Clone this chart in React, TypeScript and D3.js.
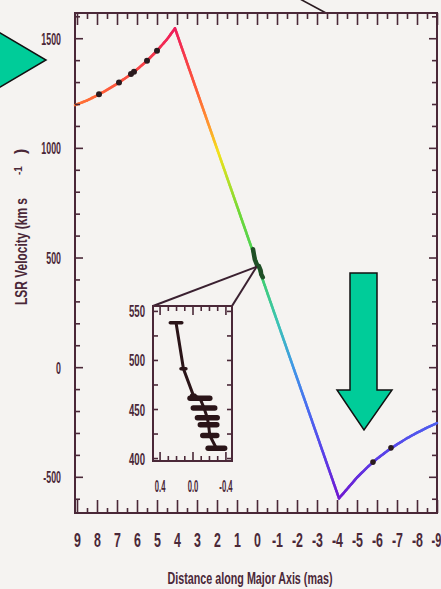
import * as d3 from 'd3';
import React from 'react';

const W = 441;
const H = 589;

// rotation curve: distance along major axis (mas) and LSR velocity (km/s)
const redSideDist = [9.1, 8.5, 8, 7.5, 7, 6.5, 6, 5.5, 5, 4.5, 4.1];
const redSideVel = [1195, 1216, 1239, 1264, 1292, 1323, 1358, 1397, 1443, 1495, 1545];
const blueSideDist = [-4.1, -4.5, -5, -5.5, -6, -6.5, -7, -7.5, -8, -8.5, -9];
const blueSideVel = [-598, -556, -503, -458, -418, -383, -352, -324, -299, -276, -255];

// high-velocity masers on the curve
const highDotDist = [7.9, 6.9, 6.3, 6.15, 5.5, 5.0];
const highDotVel = [1244, 1298, 1337, 1347, 1397, 1443];
const lowDotDist = [-5.8, -6.7];
const lowDotVel = [-433, -368];

// systemic masers (shown in the inset)
const sysDist = [0.2, 0.11, -0.01, -0.09, -0.14, -0.18, -0.195, -0.21, -0.29];
const sysVel = [538, 491, 464, 461, 451, 441, 434, 423, 410];
const sysErr = [0.07, 0.03, 0.02, 0.12, 0.13, 0.12, 0.1, 0.085, 0.1];

// axis ticks
const xMajorTicks = [9, 8, 7, 6, 5, 4, 3, 2, 1, 0, -1, -2, -3, -4, -5, -6, -7, -8, -9];
const xMinorTicks = [8.5, 7.5, 6.5, 5.5, 4.5, 3.5, 2.5, 1.5, 0.5, -0.5, -1.5, -2.5, -3.5, -4.5, -5.5, -6.5, -7.5, -8.5];
const yLabelTicks = [-500, 0, 500, 1000, 1500];
const yMinorTicks = [-600, -400, -300, -200, -100, 100, 200, 300, 400, 600, 700, 800, 900, 1100, 1200, 1300, 1400, 1600];
const insetYLabels = [400, 450, 500, 550];
const insetYMinor = [425, 475, 525];
const insetXLabels = [0.4, 0, -0.4];
const insetXMinor = [0.3, 0.2, 0.1, -0.1, -0.2, -0.3];

// velocity colour ramp of the curve
const colorVel = [-600, -400, -200, 0, 200, 450, 700, 850, 980, 1100, 1250, 1550];
const colorHex = ['#7018d0', '#5a40e8', '#4a6af0', '#4098e6', '#3cc4b4', '#40d060', '#70d838', '#b8e028', '#f4e01c', '#ff9830', '#ff6038', '#ee1a5c'];

const ink = '#4a2838';
const font = '"Liberation Sans", Arial, sans-serif';

export default function App() {
  const axesRef = React.useRef<SVGGElement>(null);

  const x = d3.scaleLinear().domain([9.1, -9]).range([75, 437]);
  const y = d3.scaleLinear().domain([-665, 1615]).range([513, 13]);
  const ix = d3.scaleLinear().domain([0.48, -0.48]).range([153, 232]);
  const iy = d3.scaleLinear().domain([397, 555]).range([461, 306]);
  const color = d3.scaleLinear<string>().domain(colorVel).range(colorHex).interpolate(d3.interpolateRgb);

  React.useEffect(() => {
    if (axesRef.current == null) {
      return;
    }
    const g = d3.select(axesRef.current);
    g.selectAll('*').remove();

    function addAxis(axis: any, transform: string) {
      const a = g.append('g').attr('transform', transform).call(axis);
      a.select('.domain').remove();
      a.attr('color', ink);
      a.selectAll('line').attr('stroke-width', 1.6);
      a.selectAll('text')
        .attr('fill', ink)
        .style('font-family', font)
        .style('font-weight', 'bold');
      return a;
    }
    const none = () => '';

    // main axes
    const bottom = addAxis(
      d3.axisBottom(x).tickValues(xMajorTicks).tickSize(-13).tickSizeOuter(0).tickFormat((d) => String(d)),
      'translate(0,513)'
    );
    bottom
      .selectAll('text')
      .attr('y', 0)
      .attr('dy', null)
      .attr('transform', (d) => (d === -9 ? 'translate(-1,34) scale(0.55,1)' : 'translate(0,34) scale(0.62,1)'))
      .style('font-size', '20px');
    addAxis(d3.axisBottom(x).tickValues(xMinorTicks).tickSize(-5).tickSizeOuter(0).tickFormat(none), 'translate(0,513)');
    addAxis(d3.axisTop(x).tickValues(xMajorTicks).tickSize(-12).tickSizeOuter(0).tickFormat(none), 'translate(0,13)');
    addAxis(d3.axisTop(x).tickValues(xMinorTicks).tickSize(-6).tickSizeOuter(0).tickFormat(none), 'translate(0,13)');

    const left = addAxis(
      d3.axisLeft(y).tickValues(yLabelTicks).tickSize(-8).tickSizeOuter(0).tickFormat((d) => String(d)),
      'translate(75,0)'
    );
    left
      .selectAll('text')
      .attr('x', 0)
      .attr('dy', null)
      .attr('transform', 'translate(-14,6) scale(0.52,1)')
      .style('font-size', '17px');
    addAxis(d3.axisLeft(y).tickValues(yMinorTicks).tickSize(-5).tickSizeOuter(0).tickFormat(none), 'translate(75,0)');
    addAxis(d3.axisRight(y).tickValues(yLabelTicks).tickSize(-8).tickSizeOuter(0).tickFormat(none), 'translate(437,0)');
    addAxis(d3.axisRight(y).tickValues(yMinorTicks).tickSize(-5).tickSizeOuter(0).tickFormat(none), 'translate(437,0)');

    // inset axes
    const iLeft = addAxis(
      d3.axisLeft(iy).tickValues(insetYLabels).tickSize(-5).tickSizeOuter(0).tickFormat((d) => String(d)),
      'translate(153,0)'
    );
    iLeft
      .selectAll('text')
      .attr('x', 0)
      .attr('dy', null)
      .attr('transform', 'translate(-8,6) scale(0.6,1)')
      .style('font-size', '16px');
    addAxis(d3.axisLeft(iy).tickValues(insetYMinor).tickSize(-5).tickSizeOuter(0).tickFormat(none), 'translate(153,0)');
    addAxis(d3.axisRight(iy).tickValues(insetYLabels.concat(insetYMinor)).tickSize(-5).tickSizeOuter(0).tickFormat(none), 'translate(232,0)');

    const iBottom = addAxis(
      d3.axisBottom(ix).tickValues(insetXLabels).tickSize(-9).tickSizeOuter(0).tickFormat((d) => d3.format('.1f')(+d).replace('−', '-')),
      'translate(0,461)'
    );
    iBottom
      .selectAll('text')
      .attr('y', 0)
      .attr('dy', null)
      .attr('transform', 'translate(0,31) scale(0.45,1)')
      .style('font-size', '17px');
    addAxis(d3.axisBottom(ix).tickValues(insetXMinor).tickSize(-5).tickSizeOuter(0).tickFormat(none), 'translate(0,461)');
    addAxis(d3.axisTop(ix).tickValues(insetXLabels).tickSize(-9).tickSizeOuter(0).tickFormat(none), 'translate(0,306)');
    addAxis(d3.axisTop(ix).tickValues(insetXMinor).tickSize(-5).tickSizeOuter(0).tickFormat(none), 'translate(0,306)');
  }, []);

  // coloured rotation curve, cut into short pieces so the colour follows velocity
  const curveDist = [...redSideDist, ...blueSideDist];
  const curveVel = [...redSideVel, ...blueSideVel];
  const pieces = [];
  for (let i = 0; i < curveDist.length - 1; i++) {
    const x0 = x(curveDist[i]);
    const y0 = y(curveVel[i]);
    const x1 = x(curveDist[i + 1]);
    const y1 = y(curveVel[i + 1]);
    const k = Math.max(1, Math.ceil(Math.hypot(x1 - x0, y1 - y0) / 2));
    for (let j = 0; j < k; j++) {
      const t0 = j / k;
      const t1 = (j + 1) / k;
      const vm = curveVel[i] + (curveVel[i + 1] - curveVel[i]) * (t0 + t1) / 2;
      pieces.push(
        <line
          key={`${i}-${j}`}
          x1={x0 + (x1 - x0) * t0}
          y1={y0 + (y1 - y0) * t0}
          x2={x0 + (x1 - x0) * t1}
          y2={y0 + (y1 - y0) * t1}
          stroke={color(vm)}
          strokeWidth={2.6}
          strokeLinecap='round'
        />
      );
    }
  }

  const dots = [];
  for (let i = 0; i < highDotDist.length; i++) {
    dots.push(<circle key={'h' + i} cx={x(highDotDist[i])} cy={y(highDotVel[i])} r={3} fill='#2a1a1e' />);
  }
  for (let i = 0; i < lowDotDist.length; i++) {
    dots.push(<circle key={'l' + i} cx={x(lowDotDist[i])} cy={y(lowDotVel[i])} r={2.8} fill='#2a1a1e' />);
  }

  const sysIdx = d3.range(sysDist.length);
  const mainSysLine = d3
    .line<number>()
    .x((i) => x(sysDist[i]))
    .y((i) => y(sysVel[i]))(sysIdx);
  const insetSysLine = d3
    .line<number>()
    .x((i) => ix(sysDist[i]))
    .y((i) => iy(sysVel[i]))(sysIdx);

  const zoomX = x(0.02);
  const zoomY = y(458);

  return (
    <svg width={W} height={H} style={{ position: 'absolute', left: 0, top: 0 }}>
      <rect x={0} y={0} width={W} height={H} fill='#f5f3f1' />

      {/* leftover line from the figure above */}
      <line x1={300} y1={-1} x2={326} y2={13} stroke='#2a1a20' strokeWidth={1.6} />

      <rect x={75} y={13} width={362} height={500} fill='none' stroke={ink} strokeWidth={2} />

      <g>{pieces}</g>
      {dots}
      <path d={mainSysLine ?? ''} fill='none' stroke='#1f4f26' strokeWidth={4.5} strokeLinecap='round' />

      {/* connector to the inset */}
      <line x1={153} y1={306} x2={zoomX} y2={zoomY} stroke='#3a2030' strokeWidth={2} />
      <line x1={232} y1={306} x2={zoomX} y2={zoomY} stroke='#3a2030' strokeWidth={2} />

      {/* inset */}
      <rect x={153} y={306} width={79} height={155} fill='#f5f3f1' stroke={ink} strokeWidth={2} />
      <path d={insetSysLine ?? ''} fill='none' stroke='#2a1418' strokeWidth={3} />
      {sysIdx.map((i) => (
        <line
          key={i}
          x1={ix(sysDist[i] + sysErr[i])}
          x2={ix(sysDist[i] - sysErr[i])}
          y1={iy(sysVel[i])}
          y2={iy(sysVel[i])}
          stroke='#2a1418'
          strokeWidth={i < 3 ? 3.5 : 5.5}
          strokeLinecap='round'
        />
      ))}

      <g ref={axesRef} />

      {/* axis titles */}
      <text
        transform='translate(27,305) rotate(-90)'
        textLength={107}
        lengthAdjust='spacingAndGlyphs'
        fontFamily={font}
        fontWeight='bold'
        fontSize={16}
        fill={ink}>
        LSR Velocity (km s
      </text>
      <text transform='translate(22,175) rotate(-90)' fontFamily={font} fontWeight='bold' fontSize={10} fill={ink}>
        -1
      </text>
      <text transform='translate(26,154) rotate(-90)' fontFamily={font} fontWeight='bold' fontSize={16} fill={ink}>
        )
      </text>
      <text
        x={250}
        y={584}
        textAnchor='middle'
        textLength={165}
        lengthAdjust='spacingAndGlyphs'
        fontFamily={font}
        fontWeight='bold'
        fontSize={17}
        fill={ink}>
        Distance along Major Axis (mas)
      </text>

      {/* green arrows */}
      <polygon points='-22,20 46,60 -22,100' fill='#00cc99' stroke='#111' strokeWidth={1.5} />
      <polygon
        points='350,273 377,273 377,390 392,390 364,430 337,390 350,390'
        fill='#00cc99'
        stroke='#111'
        strokeWidth={1.5}
      />
    </svg>
  );
}
